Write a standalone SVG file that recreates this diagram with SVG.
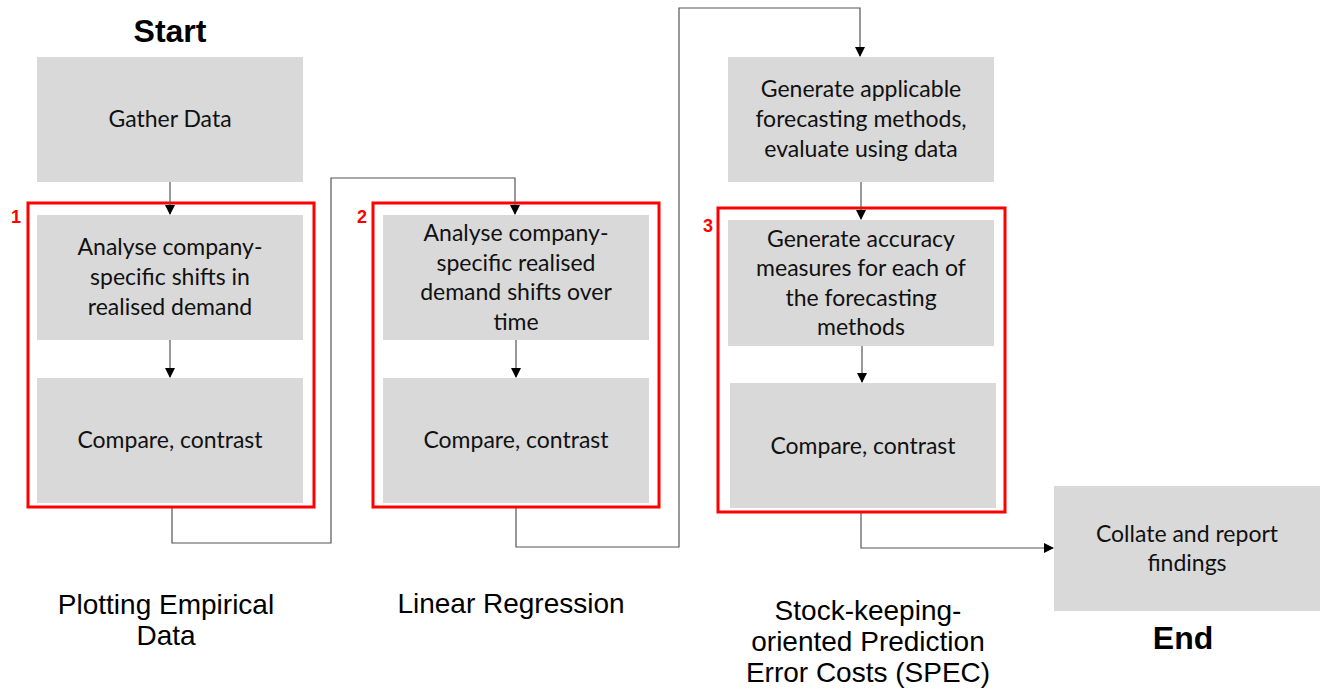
<svg xmlns="http://www.w3.org/2000/svg" width="1324" height="695" viewBox="0 0 1324 695">
<style>
.box{fill:#d9d9d9}
.grp{fill:none;stroke:#ff0000;stroke-width:3}
.t{font-family:Lato,"Liberation Sans",sans-serif;font-size:23px;fill:#111;text-anchor:middle}
.num{font-family:"Liberation Sans",Arial,sans-serif;font-size:18px;font-weight:bold;fill:#ff0000;text-anchor:middle}
.big{font-family:"Liberation Sans",Arial,sans-serif;font-size:32px;font-weight:bold;fill:#000;text-anchor:middle}
.lab{font-family:"Liberation Sans",Arial,sans-serif;font-size:28px;fill:#000;text-anchor:middle}
.c{fill:none;stroke:#555;stroke-width:1.2}
</style>
<defs>
<marker id="ah" markerWidth="10" markerHeight="10" refX="9" refY="5" orient="auto" markerUnits="userSpaceOnUse">
<path d="M0,0 L10,5 L0,10 Z" fill="#000"/>
</marker>
</defs>
<rect width="1324" height="695" fill="#fff"/>

<text class="big" x="170" y="42">Start</text>
<text class="big" x="1183" y="649">End</text>

<g id="group1">
<rect class="grp" x="28" y="203" width="286" height="304"/>
<text class="num" x="16" y="223">1</text>
</g>
<g id="group2">
<rect class="grp" x="373" y="203" width="286" height="304"/>
<text class="num" x="362" y="223">2</text>
</g>
<g id="group3">
<rect class="grp" x="718" y="208" width="287" height="304"/>
<text class="num" x="708" y="232">3</text>
</g>

<g id="connectors">
<path class="c" d="M170,182 V214" marker-end="url(#ah)"/>
<path class="c" d="M170,340 V377" marker-end="url(#ah)"/>
<path class="c" d="M172,508 V543 H331 V178 H515 V214" marker-end="url(#ah)"/>
<path class="c" d="M516,340 V377" marker-end="url(#ah)"/>
<path class="c" d="M516,508 V547 H679 V8 H860 V56" marker-end="url(#ah)"/>
<path class="c" d="M861,182 V219" marker-end="url(#ah)"/>
<path class="c" d="M862,346 V382" marker-end="url(#ah)"/>
<path class="c" d="M861,513 V548 H1053" marker-end="url(#ah)"/>
</g>

<g id="gather">
<rect class="box" x="37" y="57" width="266" height="125"/>
<text class="t" x="170" y="127">Gather Data</text>
</g>
<g id="analyse1">
<rect class="box" x="37" y="215" width="266" height="125"/>
<text class="t" x="170" y="255">Analyse company-</text>
<text class="t" x="170" y="285">specific shifts in</text>
<text class="t" x="170" y="315">realised demand</text>
</g>
<g id="compare1">
<rect class="box" x="37" y="378" width="266" height="125"/>
<text class="t" x="170" y="448">Compare, contrast</text>
</g>
<g id="analyse2">
<rect class="box" x="383" y="215" width="266" height="125"/>
<text class="t" x="516" y="241">Analyse company-</text>
<text class="t" x="516" y="271">specific realised</text>
<text class="t" x="516" y="300">demand shifts over</text>
<text class="t" x="516" y="330">time</text>
</g>
<g id="compare2">
<rect class="box" x="383" y="378" width="266" height="125"/>
<text class="t" x="516" y="448">Compare, contrast</text>
</g>
<g id="generate">
<rect class="box" x="728" y="57" width="266" height="125"/>
<text class="t" x="861" y="97">Generate applicable</text>
<text class="t" x="861" y="127">forecasting methods,</text>
<text class="t" x="861" y="157">evaluate using data</text>
</g>
<g id="accuracy">
<rect class="box" x="728" y="220" width="266" height="126"/>
<text class="t" x="861" y="247">Generate accuracy</text>
<text class="t" x="861" y="276">measures for each of</text>
<text class="t" x="861" y="306">the forecasting</text>
<text class="t" x="861" y="335">methods</text>
</g>
<g id="compare3">
<rect class="box" x="730" y="383" width="266" height="125"/>
<text class="t" x="863" y="454">Compare, contrast</text>
</g>
<g id="collate">
<rect class="box" x="1054" y="486" width="266" height="125"/>
<text class="t" x="1187" y="542">Collate and report</text>
<text class="t" x="1187" y="571">findings</text>
</g>

<g id="labels">
<text class="lab" x="166" y="614">Plotting Empirical</text>
<text class="lab" x="166" y="645">Data</text>
<text class="lab" x="511" y="613">Linear Regression</text>
<text class="lab" x="868" y="620">Stock-keeping-</text>
<text class="lab" x="868" y="651">oriented Prediction</text>
<text class="lab" x="868" y="682">Error Costs (SPEC)</text>
</g>
</svg>
